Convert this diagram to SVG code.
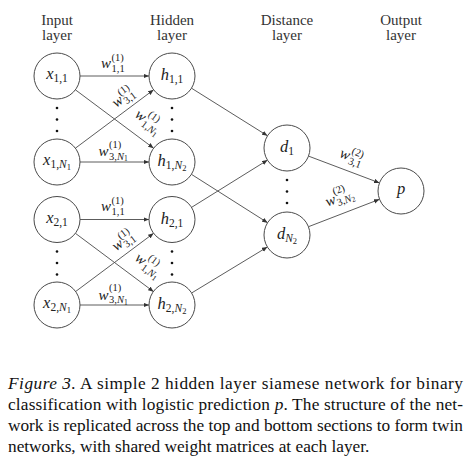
<svg xmlns="http://www.w3.org/2000/svg" width="474" height="465" viewBox="0 0 474 465" font-family="'Liberation Serif', 'DejaVu Serif', serif">
<style>
  text { font-family: "Liberation Serif", "DejaVu Serif", serif; }
  .bg { fill: #ffffff; }
  .node circle { fill: #ffffff; stroke: #4a4a4a; stroke-width: 1; }
  .hdr { font-size: 15px; fill: #333; text-anchor: middle; }
  .nl { font-size: 16.5px; fill: #222; text-anchor: middle; }
  .i { font-style: italic; }
  .s { font-size: 11.5px; font-style: normal; }
  .si { font-size: 11.5px; font-style: italic; }
  .ss { font-size: 8.5px; font-style: normal; }
  .edges line { stroke: #4a4a4a; stroke-width: 0.9; marker-end: url(#ah); }
  .lab text { fill: #222; }
  .w { font-size: 15px; font-style: italic; }
  .sc { font-size: 10.5px; }
  .sci { font-size: 10.5px; font-style: italic; }
  .scc { font-size: 7.5px; }
  .dot { fill: #111; }
  .cap { font-size: 17.3px; fill: #111; }
</style>
<defs>
  <marker id="ah" markerUnits="userSpaceOnUse" markerWidth="6" markerHeight="5" refX="5.5" refY="2.25" orient="auto">
    <path d="M0,0 L5.5,2.25 L0,4.5 z" fill="#333"/>
  </marker>
</defs>
<rect class="bg" x="0" y="0" width="474" height="465"/>

<g id="headers">
  <text class="hdr" x="57" y="25">Input</text><text class="hdr" x="57" y="40">layer</text>
  <text class="hdr" x="172" y="25">Hidden</text><text class="hdr" x="172" y="40">layer</text>
  <text class="hdr" x="287" y="25">Distance</text><text class="hdr" x="287" y="40">layer</text>
  <text class="hdr" x="401" y="25">Output</text><text class="hdr" x="401" y="40">layer</text>
</g>

<g id="connectors" class="edges">
  <line x1="80" y1="76" x2="149" y2="76"/>
  <line x1="75.4" y1="89.8" x2="153.6" y2="148.2"/>
  <line x1="75.4" y1="148.2" x2="153.6" y2="89.8"/>
  <line x1="80" y1="162" x2="149" y2="162"/>
  <line x1="80" y1="219.5" x2="149" y2="219.5"/>
  <line x1="75.4" y1="233.3" x2="153.6" y2="291.7"/>
  <line x1="75.4" y1="291.7" x2="153.6" y2="233.3"/>
  <line x1="80" y1="305" x2="149" y2="305"/>
  <line x1="191.5" y1="88.2" x2="267.5" y2="135.8"/>
  <line x1="191.4" y1="174.3" x2="267.6" y2="222.7"/>
  <line x1="191.5" y1="207.4" x2="267.5" y2="160.1"/>
  <line x1="191.6" y1="293" x2="267.4" y2="247"/>
  <line x1="308.5" y1="156.1" x2="379.5" y2="182.9"/>
  <line x1="308.5" y1="226.7" x2="379.5" y2="199.3"/>
</g>

<g id="edge-labels" class="lab">
  <text class="w" x="101" y="68">w</text><text class="sc" x="111.5" y="61">(1)</text><text class="sc" x="111.5" y="71.5">1,1</text>
  <text class="w" x="98.5" y="156">w</text><text class="sc" x="109" y="147.5">(1)</text><text x="109" y="159.5"><tspan class="sc">3,</tspan><tspan class="sci">N</tspan><tspan class="scc" dy="1.5">1</tspan></text>
  <text class="w" x="101" y="211">w</text><text class="sc" x="111.5" y="204">(1)</text><text class="sc" x="111.5" y="214.5">1,1</text>
  <text class="w" x="98.5" y="299.5">w</text><text class="sc" x="109" y="291">(1)</text><text x="109" y="303"><tspan class="sc">3,</tspan><tspan class="sci">N</tspan><tspan class="scc" dy="1.5">1</tspan></text>
  <g transform="translate(123,98) rotate(-36.8)">
    <text class="w" x="-11.5" y="4">w</text><text class="sc" x="-1" y="-3">(1)</text><text class="sc" x="-1" y="7.5">3,1</text>
  </g>
  <g transform="translate(147.5,121.5) rotate(36.8)">
    <text class="w" x="-14" y="4">w</text><text class="sc" x="-3.5" y="-4.5">(1)</text><text x="-3.5" y="7.5"><tspan class="sc">1,</tspan><tspan class="sci">N</tspan><tspan class="scc" dy="1.5">1</tspan></text>
  </g>
  <g transform="translate(123,241.5) rotate(-36.8)">
    <text class="w" x="-11.5" y="4">w</text><text class="sc" x="-1" y="-3">(1)</text><text class="sc" x="-1" y="7.5">3,1</text>
  </g>
  <g transform="translate(147.5,265) rotate(36.8)">
    <text class="w" x="-14" y="4">w</text><text class="sc" x="-3.5" y="-4.5">(1)</text><text x="-3.5" y="7.5"><tspan class="sc">1,</tspan><tspan class="sci">N</tspan><tspan class="scc" dy="1.5">1</tspan></text>
  </g>
  <g transform="translate(351,157) rotate(20.7)">
    <text class="w" x="-11.5" y="4">w</text><text class="sc" x="-1" y="-3">(2)</text><text class="sc" x="-1" y="7.5">3,1</text>
  </g>
  <g transform="translate(339,198) rotate(-21.1)">
    <text class="w" x="-14" y="4">w</text><text class="sc" x="-3.5" y="-4.5">(2)</text><text x="-3.5" y="7.5"><tspan class="sc">3,</tspan><tspan class="sci">N</tspan><tspan class="scc" dy="1.5">2</tspan></text>
  </g>
</g>

<g id="dots">
  <circle class="dot" cx="57" cy="108" r="1.3"/><circle class="dot" cx="57" cy="119.5" r="1.3"/><circle class="dot" cx="57" cy="131" r="1.3"/>
  <circle class="dot" cx="172" cy="108" r="1.3"/><circle class="dot" cx="172" cy="119.5" r="1.3"/><circle class="dot" cx="172" cy="131" r="1.3"/>
  <circle class="dot" cx="57" cy="251.5" r="1.3"/><circle class="dot" cx="57" cy="263" r="1.3"/><circle class="dot" cx="57" cy="274.5" r="1.3"/>
  <circle class="dot" cx="172" cy="251.5" r="1.3"/><circle class="dot" cx="172" cy="263" r="1.3"/><circle class="dot" cx="172" cy="274.5" r="1.3"/>
  <circle class="dot" cx="287" cy="180" r="1.3"/><circle class="dot" cx="287" cy="191.5" r="1.3"/><circle class="dot" cx="287" cy="203" r="1.3"/>
</g>

<g id="x11" class="node"><circle cx="57" cy="76" r="23"/><text class="nl" x="57" y="79"><tspan class="i">x</tspan><tspan class="s" dy="3">1,1</tspan></text></g>
<g id="x1N" class="node"><circle cx="57" cy="162" r="23"/><text class="nl" x="57" y="165"><tspan class="i">x</tspan><tspan class="s" dy="3">1,</tspan><tspan class="si">N</tspan><tspan class="ss" dy="2">1</tspan></text></g>
<g id="x21" class="node"><circle cx="57" cy="219.5" r="23"/><text class="nl" x="57" y="222.5"><tspan class="i">x</tspan><tspan class="s" dy="3">2,1</tspan></text></g>
<g id="x2N" class="node"><circle cx="57" cy="305" r="23"/><text class="nl" x="57" y="308"><tspan class="i">x</tspan><tspan class="s" dy="3">2,</tspan><tspan class="si">N</tspan><tspan class="ss" dy="2">1</tspan></text></g>

<g id="h11" class="node"><circle cx="172" cy="76" r="23"/><text class="nl" x="172" y="80"><tspan class="i">h</tspan><tspan class="s" dy="3">1,1</tspan></text></g>
<g id="h1N" class="node"><circle cx="172" cy="162" r="23"/><text class="nl" x="172" y="166"><tspan class="i">h</tspan><tspan class="s" dy="3">1,</tspan><tspan class="si">N</tspan><tspan class="ss" dy="2">2</tspan></text></g>
<g id="h21" class="node"><circle cx="172" cy="219.5" r="23"/><text class="nl" x="172" y="223.5"><tspan class="i">h</tspan><tspan class="s" dy="3">2,1</tspan></text></g>
<g id="h2N" class="node"><circle cx="172" cy="305" r="23"/><text class="nl" x="172" y="309"><tspan class="i">h</tspan><tspan class="s" dy="3">2,</tspan><tspan class="si">N</tspan><tspan class="ss" dy="2">2</tspan></text></g>

<g id="d1" class="node"><circle cx="287" cy="148" r="23"/><text class="nl" x="287" y="152"><tspan class="i">d</tspan><tspan class="s" dy="3">1</tspan></text></g>
<g id="dN" class="node"><circle cx="287" cy="235" r="23"/><text class="nl" x="287" y="239"><tspan class="i">d</tspan><tspan class="si" dy="3">N</tspan><tspan class="ss" dy="2">2</tspan></text></g>

<g id="p" class="node"><circle cx="401" cy="191" r="23"/><text class="nl i" x="401" y="194">p</text></g>

<g id="caption" class="cap">
  <text x="8" y="389" textLength="455" lengthAdjust="spacing"><tspan font-style="italic">Figure 3.</tspan> A simple 2 hidden layer siamese network for binary</text>
  <text x="8" y="410" textLength="455" lengthAdjust="spacing">classification with logistic prediction <tspan font-style="italic">p</tspan>.  The structure of the net-</text>
  <text x="8" y="431" textLength="455" lengthAdjust="spacing">work is replicated across the top and bottom sections to form twin</text>
  <text x="8" y="452">networks, with shared weight matrices at each layer.</text>
</g>
</svg>
